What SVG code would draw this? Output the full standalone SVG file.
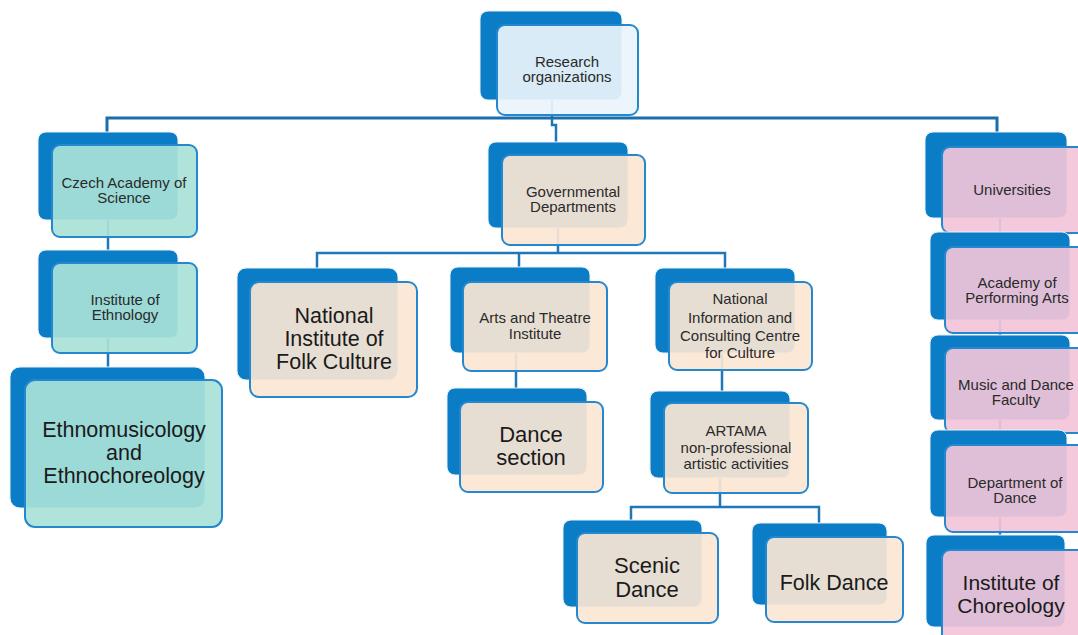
<svg xmlns="http://www.w3.org/2000/svg" width="1078" height="635" viewBox="0 0 1078 635">
<style>
.back{fill:#0b7dc6;stroke:#e6f0f8;stroke-width:1}
.front{stroke:#2588cf;stroke-width:2;fill-opacity:0.92}
.blue{fill:#eaf4fb}
.teal{fill:#a9e2d8}
.peach{fill:#fbe6d4}
.pink{fill:#f2c4d8}
.t{font-family:"Liberation Sans",Arial,sans-serif;font-size:15px;fill:#2a2a2a;text-anchor:middle}
.L{font-size:21.5px;fill:#1a1a1a}
.c{fill:none;stroke:#1f77b8;stroke-width:2.5}
</style>
<rect width="1078" height="635" fill="#ffffff"/>
<g id="connectors">
<path class="c" d="M552 100V125H556V142"/>
<path class="c" d="M107 133V118H997V132" style="stroke-width:3;stroke:#1b6eac"/>
<path class="c" d="M108 220V250M108 338V367"/>
<path class="c" d="M558 228V253M317 268V253H725V268M519 253V267"/>
<path class="c" d="M516 353V388"/>
<path class="c" d="M722 353V391"/>
<path class="c" d="M720 478V507M631 520V507H819V523"/>
<path class="c" d="M1000 218V232M1000 320V335M1000 420V430M1000 517V535"/>
</g>
<g id="n-research">
<rect class="back" x="480" y="11" width="142" height="89" rx="8"/>
<rect class="front blue" x="497" y="25" width="141" height="90" rx="8"/>
<text class="t"><tspan x="567" y="67">Research</tspan><tspan x="567" y="82">organizations</tspan></text>
</g>
<g id="n-czech">
<rect class="back" x="38" y="132" width="140" height="88" rx="8"/>
<rect class="front teal" x="52" y="145" width="145" height="92" rx="8"/>
<text class="t"><tspan x="124" y="188">Czech Academy of</tspan><tspan x="124" y="203">Science</tspan></text>
</g>
<g id="n-ethnology">
<rect class="back" x="38" y="250" width="140" height="88" rx="8"/>
<rect class="front teal" x="52" y="263" width="145" height="90" rx="8"/>
<text class="t"><tspan x="125" y="305">Institute of</tspan><tspan x="125" y="320">Ethnology</tspan></text>
</g>
<g id="n-ethnomus">
<rect class="back" x="10" y="367" width="195" height="141" rx="10"/>
<rect class="front teal" x="25" y="380" width="197" height="147" rx="10"/>
<text class="t L"><tspan x="124" y="437">Ethnomusicology</tspan><tspan x="124" y="460">and</tspan><tspan x="124" y="483">Ethnochoreology</tspan></text>
</g>
<g id="n-gov">
<rect class="back" x="488" y="142" width="140" height="86" rx="8"/>
<rect class="front peach" x="502" y="155" width="143" height="90" rx="8"/>
<text class="t"><tspan x="573" y="197">Governmental</tspan><tspan x="573" y="212">Departments</tspan></text>
</g>
<g id="n-nifc">
<rect class="back" x="237" y="268" width="161" height="112" rx="9"/>
<rect class="front peach" x="250" y="282" width="167" height="115" rx="9"/>
<text class="t L"><tspan x="334" y="323">National</tspan><tspan x="334" y="346">Institute of</tspan><tspan x="334" y="369">Folk Culture</tspan></text>
</g>
<g id="n-arts">
<rect class="back" x="450" y="267" width="140" height="86" rx="8"/>
<rect class="front peach" x="463" y="282" width="144" height="89" rx="8"/>
<text class="t"><tspan x="535" y="323">Arts and Theatre</tspan><tspan x="535" y="339">Institute</tspan></text>
</g>
<g id="n-dance-section">
<rect class="back" x="447" y="388" width="140" height="87" rx="8"/>
<rect class="front peach" x="460" y="402" width="143" height="90" rx="8"/>
<text class="t L" style="font-size:22px"><tspan x="531" y="442">Dance</tspan><tspan x="531" y="465">section</tspan></text>
</g>
<g id="n-natinfo">
<rect class="back" x="655" y="268" width="140" height="85" rx="8"/>
<rect class="front peach" x="669" y="282" width="143" height="88" rx="8"/>
<text class="t"><tspan x="740" y="304">National</tspan><tspan x="740" y="323">Information and</tspan><tspan x="740" y="341">Consulting Centre</tspan><tspan x="740" y="358">for Culture</tspan></text>
</g>
<g id="n-artama">
<rect class="back" x="650" y="391" width="140" height="87" rx="8"/>
<rect class="front peach" x="664" y="403" width="144" height="90" rx="8"/>
<text class="t"><tspan x="736" y="436">ARTAMA</tspan><tspan x="736" y="453">non-professional</tspan><tspan x="736" y="469">artistic activities</tspan></text>
</g>
<g id="n-scenic">
<rect class="back" x="563" y="520" width="139" height="87" rx="8"/>
<rect class="front peach" x="577" y="533" width="141" height="90" rx="8"/>
<text class="t L" style="font-size:22px"><tspan x="647" y="573">Scenic</tspan><tspan x="647" y="597">Dance</tspan></text>
</g>
<g id="n-folk">
<rect class="back" x="752" y="523" width="135" height="82" rx="8"/>
<rect class="front peach" x="766" y="537" width="137" height="85" rx="8"/>
<text class="t L" x="834" y="590">Folk Dance</text>
</g>
<g id="n-universities">
<rect class="back" x="925" y="132" width="142" height="86" rx="8"/>
<rect class="front pink" x="942" y="147" width="150" height="86" rx="8"/>
<text class="t" x="1012" y="195">Universities</text>
</g>
<g id="n-academy">
<rect class="back" x="930" y="232" width="140" height="88" rx="8"/>
<rect class="front pink" x="945" y="247" width="150" height="86" rx="8"/>
<text class="t"><tspan x="1017" y="288">Academy of</tspan><tspan x="1017" y="303">Performing Arts</tspan></text>
</g>
<g id="n-music">
<rect class="back" x="930" y="335" width="140" height="85" rx="8"/>
<rect class="front pink" x="945" y="348" width="150" height="85" rx="8"/>
<text class="t"><tspan x="1016" y="390">Music and Dance</tspan><tspan x="1016" y="405">Faculty</tspan></text>
</g>
<g id="n-dept">
<rect class="back" x="930" y="430" width="137" height="87" rx="8"/>
<rect class="front pink" x="945" y="445" width="150" height="87" rx="8"/>
<text class="t"><tspan x="1015" y="488">Department of</tspan><tspan x="1015" y="503">Dance</tspan></text>
</g>
<g id="n-choreology">
<rect class="back" x="926" y="535" width="139" height="92" rx="8"/>
<rect class="front pink" x="942" y="550" width="150" height="95" rx="8"/>
<text class="t L" style="font-size:21px"><tspan x="1011" y="590">Institute of</tspan><tspan x="1011" y="613">Choreology</tspan></text>
</g>
</svg>
